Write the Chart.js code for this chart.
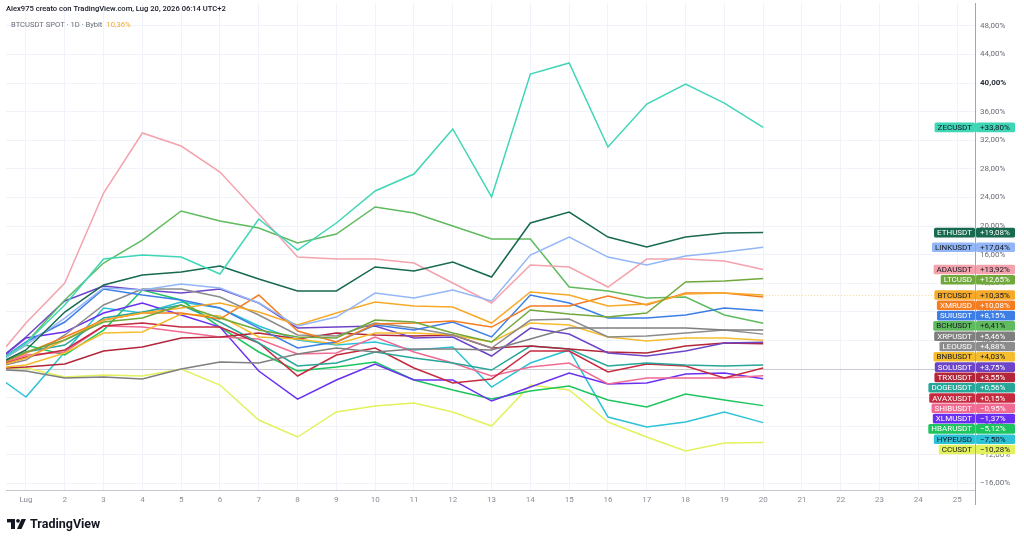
<!DOCTYPE html>
<html>
<head>
<meta charset="utf-8">
<script src="https://cdn.jsdelivr.net/npm/chart.js@4/dist/chart.umd.min.js"></script>
<style>
  html, body { margin: 0; padding: 0; background: #ffffff; }
  #wrap { width: 1024px; height: 543px; }
</style>
</head>
<body>
<div id="wrap"><canvas id="grafica" width="1024" height="543"></canvas></div>
<script>
// giorni di luglio (0 = 30 giugno, base del confronto)
const giorni = [0,1,2,3,4,5,6,7,8,9,10,11,12,13,14,15,16,17,18,19,20];
const tickGiorni = [1,2,3,4,5,6,7,8,9,10,11,12,13,14,15,16,17,18,19,20,21,22,23,24,25];
const tickEtichette = ['Lug','2','3','4','5','6','7','8','9','10','11','12','13','14','15','16','17','18','19','20','21','22','23','24','25'];
const tickPercento = [-16,-12,-8,-4,0,4,8,12,16,20,24,28,32,36,40,44,48];

const zec  = [0,3.64,8.95,15.38,15.94,15.66,13.29,20.98,16.64,20.42,24.90,27.27,33.57,24.06,41.26,42.80,31.05,37.06,39.86,37.20,33.80];
const eth  = [0,2.66,7.97,11.75,13.15,13.57,14.41,12.59,10.91,10.91,14.27,13.71,14.97,12.87,20.42,21.96,18.46,17.06,18.46,19.02,19.08];
const link = [0,3.36,7.13,11.33,11.05,11.89,11.33,9.23,6.01,7.27,10.63,9.93,11.05,9.51,15.94,18.46,15.66,14.55,15.80,16.36,17.04];
const ada  = [0,6.43,12.03,24.62,33.01,31.19,27.55,21.68,15.66,15.38,15.38,14.83,12.03,9.23,14.55,14.27,11.47,15.38,15.38,15.10,13.92];
const ltc  = [0,2.38,4.06,6.57,7.13,8.95,7.13,5.45,4.48,4.34,6.85,6.57,5.03,3.78,8.25,7.69,7.27,7.83,12.17,12.31,12.65];
const btc  = [0,1.54,4.06,6.85,7.83,8.53,9.23,7.97,6.15,7.83,9.37,8.81,8.67,6.43,10.77,10.35,8.81,9.09,10.49,10.63,10.35];
const xmr  = [0,2.24,4.48,6.85,7.83,7.83,6.99,10.35,5.31,3.78,6.29,6.43,6.71,5.87,8.81,8.81,10.21,8.95,10.63,10.63,10.08];
const sui  = [0,3.78,6.57,11.19,10.35,9.65,8.53,5.73,2.94,3.78,6.15,5.45,6.57,4.48,10.35,9.23,7.13,7.13,7.55,8.53,8.15];
const bch  = [0,3.64,9.65,14.83,18.04,22.10,20.70,19.72,17.62,18.88,22.66,21.82,20.00,18.18,18.18,11.47,10.91,9.93,10.07,7.55,6.41];
const xrp  = [0,-0.28,-1.26,-1.12,-1.40,0,0.98,0.84,2.10,2.94,2.38,2.80,2.80,2.66,4.20,5.73,5.73,5.73,5.73,5.45,5.46];
const leo  = [0,1.26,4.76,8.95,11.19,11.19,10.07,7.55,4.76,4.62,6.43,5.73,4.76,2.94,6.85,6.99,4.48,4.62,5.03,5.45,4.88];
const bnb  = [0,0.56,2.24,5.03,5.17,7.69,7.41,4.48,4.20,3.50,5.03,5.03,4.76,3.78,6.43,6.15,4.48,3.92,4.34,4.34,4.03];
const sol  = [0,4.48,9.51,11.61,11.05,10.63,11.19,9.23,5.73,5.87,6.01,4.34,4.48,1.82,5.73,4.90,2.24,1.82,2.52,3.64,3.75];
const trx  = [0,0.28,0.70,2.52,3.08,4.34,4.48,5.03,4.20,5.03,4.76,4.62,4.76,2.94,3.22,2.80,2.38,2.24,3.22,3.64,3.55];
const doge = [0,2.38,3.36,7.13,7.97,8.95,6.57,3.64,0.42,0.84,2.38,1.54,0.84,-0.14,3.22,2.80,0.42,0.84,0.56,0.42,0.56];
const avax = [0,1.68,2.66,6.01,6.43,5.87,5.87,3.64,-0.98,1.96,2.94,0.14,-1.96,-1.40,2.52,2.52,-0.42,0.70,0.42,-1.26,0.15];
const shib = [0,1.96,2.38,6.01,5.87,5.17,4.48,4.20,2.10,2.24,4.48,2.38,0.84,-0.98,0.28,0.84,-2.10,-1.26,-1.26,-1.26,-0.95];
const xlm  = [0,4.34,5.17,7.83,9.23,7.55,5.87,-0.28,-4.20,-1.54,0.70,-1.54,-1.54,-4.48,-2.52,-0.56,-2.10,-1.96,-0.70,-0.56,-1.37];
const hbar = [0,3.36,1.96,5.45,11.05,9.65,5.87,2.38,-0.28,0.28,0.98,-1.54,-2.94,-4.20,-3.08,-2.38,-4.34,-5.31,-3.50,-4.34,-5.12];
const hype = [0,-3.92,2.38,8.53,7.83,9.37,8.53,6.01,4.06,3.36,3.78,2.66,3.08,-2.52,0.84,2.66,-6.71,-8.11,-7.41,-6.01,-7.50];
const cc   = [0,0.14,-1.12,-0.84,-0.98,0,-2.24,-7.13,-9.51,-6.01,-5.17,-4.76,-6.01,-7.97,-2.24,-2.94,-7.41,-9.51,-11.47,-10.35,-10.28];

const simboli = ['ZECUSDT','ETHUSDT','LINKUSDT','ADAUSDT','LTCUSD','BTCUSDT','XMRUSD','SUIUSDT','BCHUSDT','XRPUSDT','LEOUSD',
                 'BNBUSDT','SOLUSDT','TRXUSDT','DOGEUSDT','AVAXUSDT','SHIBUSDT','XLMUSDT','HBARUSDT','HYPEUSD','CCUSDT'];
const valori = [zec,eth,link,ada,ltc,btc,xmr,sui,bch,xrp,leo,bnb,sol,trx,doge,avax,shib,xlm,hbar,hype,cc];
const colori = ['#3fd6b6','#17694f','#93b6f6','#f4a3ad','#70a83b','#f7a928','#f57d20','#3d7ee6','#60ba5e','#7f7f7f','#8c8c8c',
                '#f5bd2e','#6d45c8','#b3263a','#27a69a','#c62a3f','#f06a92','#6a2ff0','#1ec45d','#2ec2d6','#e3f15c'];
const testoScuro = [true,false,true,true,false,true,false,false,true,false,false,
                    true,false,false,false,false,false,false,false,true,true];

const FONT = 'Roboto, "Noto Sans", sans-serif';

function formatoPercento(v)
{
  var s = Math.abs(v).toFixed(2).replace('.', ',') + '%';
  return (v < 0 ? '\u2212' : '') + s;
}

function rettangolo(ctx, x, y, w, h, r)
{
  ctx.beginPath();
  ctx.moveTo(x + r, y);
  ctx.lineTo(x + w - r, y);
  ctx.quadraticCurveTo(x + w, y, x + w, y + r);
  ctx.lineTo(x + w, y + h - r);
  ctx.quadraticCurveTo(x + w, y + h, x + w - r, y + h);
  ctx.lineTo(x + r, y + h);
  ctx.quadraticCurveTo(x, y + h, x, y + h - r);
  ctx.lineTo(x, y + r);
  ctx.quadraticCurveTo(x, y, x + r, y);
  ctx.closePath();
  ctx.fill();
}

const decorazioni = {
  id: 'decorazioni',
  afterDraw(chart) {
    const ctx = chart.ctx;
    const area = chart.chartArea;
    const ys = chart.scales.y;
    const xs = chart.scales.x;
    ctx.save();

    // linea del prezzo della serie principale
    ctx.strokeStyle = 'rgba(247,169,40,0.45)';
    ctx.lineWidth = 1;
    ctx.setLineDash([1, 2]);
    var yp = Math.round(ys.getPixelForValue(btc[btc.length - 1])) + 0.5;
    ctx.beginPath();
    ctx.moveTo(xs.getPixelForValue(giorni[giorni.length - 1]), yp);
    ctx.lineTo(area.right, yp);
    ctx.stroke();
    ctx.setLineDash([]);

    // prolungamento asse prezzi
    ctx.strokeStyle = '#a3a6af';
    ctx.beginPath();
    ctx.moveTo(area.right + 0.5, area.bottom);
    ctx.lineTo(area.right + 0.5, area.bottom + 15);
    ctx.stroke();

    // intestazione
    ctx.textBaseline = 'middle';
    ctx.textAlign = 'left';
    ctx.font = '500 7.6px ' + FONT;
    ctx.fillStyle = '#131722';
    ctx.fillText('Alex975 creato con TradingView.com, Lug 20, 2026 06:14 UTC+2', 6, 9.5);
    ctx.font = '7.6px ' + FONT;
    ctx.fillStyle = '#6a6d78';
    var t2 = 'BTCUSDT SPOT \u00b7 1D \u00b7 Bybit';
    ctx.fillText(t2, 11, 25.5);
    ctx.fillStyle = '#f7a928';
    ctx.fillText('10,36%', 11 + ctx.measureText(t2).width + 4, 25.5);

    // etichette ultimo valore
    var items = simboli.map(function(nome, i) {
      return { nome: nome, v: valori[i][valori[i].length - 1], colore: colori[i], scuro: testoScuro[i] };
    });
    items.sort(function(a, b) { return b.v - a.v; });
    var prev = -1000;
    items.forEach(function(it) {
      var y = ys.getPixelForValue(it.v);
      if (y < prev + 10.3) y = prev + 10.3;
      it.py = y;
      prev = y;
    });
    ctx.font = '8px ' + FONT;
    items.forEach(function(it) {
      var wNome = ctx.measureText(it.nome).width + 6;
      var h = 9.6;
      ctx.fillStyle = it.colore;
      rettangolo(ctx, area.right - wNome, it.py - h / 2, wNome, h, 1.5);
      rettangolo(ctx, area.right + 1, it.py - h / 2, 39, h, 1.5);
      ctx.fillStyle = it.scuro ? '#131722' : '#ffffff';
      ctx.textAlign = 'right';
      ctx.fillText(it.nome, area.right - 3, it.py + 0.5);
      ctx.textAlign = 'left';
      ctx.fillText((it.v >= 0 ? '+' : '') + formatoPercento(it.v), area.right + 5, it.py + 0.5);
    });

    // logo TradingView
    var ly = 519;
    ctx.fillStyle = '#131722';
    ctx.fillRect(7, ly, 8, 3.4);
    ctx.fillRect(11, ly, 4, 10);
    ctx.beginPath();
    ctx.arc(18, ly + 1.8, 1.9, 0, Math.PI * 2);
    ctx.fill();
    ctx.beginPath();
    ctx.moveTo(21.5, ly);
    ctx.lineTo(26, ly);
    ctx.lineTo(21.5, ly + 10);
    ctx.lineTo(17, ly + 10);
    ctx.closePath();
    ctx.fill();
    ctx.font = 'bold 12.5px ' + FONT;
    ctx.textAlign = 'left';
    ctx.fillText('TradingView', 30, ly + 5.5);

    ctx.restore();
  }
};

const datasets = valori.map(function(serie, i) {
  return {
    label: simboli[i],
    data: giorni.map(function(g, j) { return { x: g, y: serie[j] }; }),
    borderColor: colori[i],
    backgroundColor: colori[i],
    borderWidth: 1.5,
    pointRadius: 0,
    tension: 0
  };
});

const graph = document.getElementById('grafica');
const lineChart = new Chart(graph, {
  type: 'line',
  data: { datasets: datasets },
  options: {
    responsive: false,
    animation: false,
    devicePixelRatio: 1,
    layout: { padding: { left: 6, top: 3, right: 0, bottom: 0 } },
    plugins: {
      legend: { display: false },
      tooltip: { enabled: false }
    },
    scales: {
      x: {
        type: 'linear',
        min: 0.485,
        max: 25.46,
        afterBuildTicks: function(s) { s.ticks = tickGiorni.map(function(v) { return { value: v }; }); },
        afterFit: function(s) { s.height = 53; s.paddingLeft = 0; s.paddingRight = 0; },
        grid: { color: '#f0f3fa', drawTicks: false },
        border: { display: true, color: '#c4c7ce' },
        ticks: {
          autoSkip: false,
          maxRotation: 0,
          padding: 5,
          color: '#8a8d96',
          font: { family: FONT, size: 8 },
          callback: function(v) { return tickEtichette[tickGiorni.indexOf(v)]; }
        }
      },
      y: {
        position: 'right',
        min: -16.92,
        max: 51.19,
        afterBuildTicks: function(s) { s.ticks = tickPercento.map(function(v) { return { value: v }; }); },
        afterFit: function(s) { s.width = 49; s.paddingTop = 0; s.paddingBottom = 0; },
        grid: {
          drawTicks: false,
          color: function(c) { return c.tick && c.tick.value === 0 ? '#c9ccd3' : '#f0f3fa'; }
        },
        border: { display: true, color: '#a3a6af' },
        ticks: {
          padding: 5,
          color: function(c) { return c.tick && c.tick.value === 40 ? '#2a2e39' : '#6a6d78'; },
          font: function(c) {
            return { family: FONT, size: 8, weight: c.tick && c.tick.value === 40 ? 'bold' : 'normal' };
          },
          callback: function(v) { return formatoPercento(v); }
        }
      }
    }
  },
  plugins: [decorazioni]
});
</script>
</body>
</html>
